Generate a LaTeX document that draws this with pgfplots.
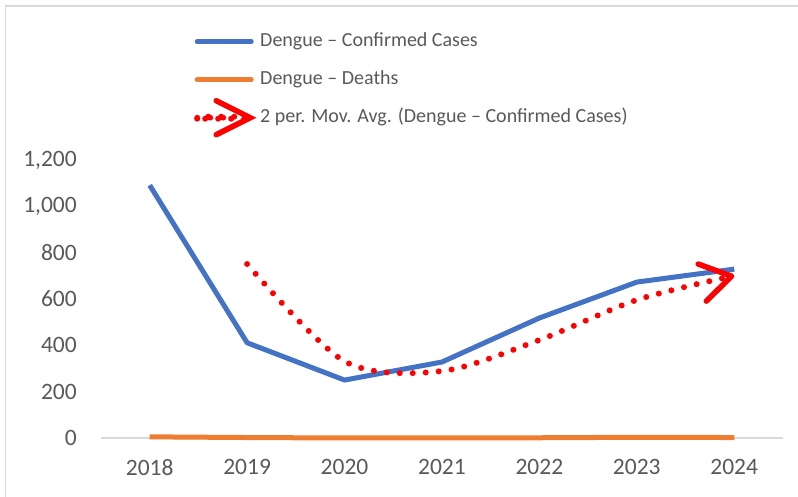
\documentclass[border=0pt]{standalone}
\usepackage{pgfplots}
\pgfplotsset{compat=1.18}
\usepackage{fontspec}
\setmainfont{Carlito}
\usetikzlibrary{arrows.meta}
\definecolor{cblue}{HTML}{4472C4}
\definecolor{corange}{HTML}{ED7D31}
\definecolor{cgrid}{HTML}{D9D9D9}
\definecolor{ctext}{HTML}{595959}

\begin{document}
\begin{tikzpicture}
\useasboundingbox (0,0) rectangle (798pt,497pt);
% chart area border (only top and left visible)
\draw[cgrid, line width=1.5pt] (5.5pt,-20pt) -- (5.5pt,491pt) -- (820pt,491pt);
\begin{axis}[
  at={(101pt,59pt)}, anchor=south west,
  scale only axis, width=682pt, height=278pt,
  xmin=2017.5, xmax=2024.5, ymin=0, ymax=1200,
  xtick={2018,...,2024}, ytick={0,200,...,1200},
  axis x line*=bottom, axis y line*=left,
  x axis line style={cgrid, line width=1.5pt},
  y axis line style={draw=none},
  major tick length=0pt,
  clip=false,
  /pgf/number format/assume math mode=true,
  xticklabel style={font=\fontsize{23.5}{28}\selectfont, text=ctext, inner sep=0pt, yshift=-21pt, /pgf/number format/1000 sep={}},
  yticklabel style={font=\fontsize{23.5}{28}\selectfont, text=ctext, inner sep=0pt, xshift=-24pt},
  legend cell align=left,
  legend style={at={(0.1364,1.4586)}, anchor=north west, draw=none, fill=none,
    inner sep=0pt, row sep=20pt, column sep=6pt,
    font=\fontsize{20}{24}\selectfont, text=ctext,
    nodes={inner sep=0pt, text height=14pt, text depth=4pt}},
  legend image code/.code={\draw[#1, -, line cap=round] (2pt,0pt) -- (56pt,0pt);},
]
\addplot[cblue, line width=5pt, line join=round] coordinates {
  (2018,1091) (2019,411) (2020,250) (2021,328) (2022,518) (2023,673) (2024,729)};
\addlegendentry{Dengue – Confirmed Cases}
\addplot[corange, line width=5pt, line join=round] coordinates {
  (2018,5) (2019,2) (2020,0) (2021,0) (2022,1) (2023,3) (2024,2)};
\addlegendentry{Dengue – Deaths}
\addplot[red, smooth, line width=6pt, line cap=round, dash pattern=on 0pt off 13pt,
  -{Straight Barb[length=30pt, width=38pt, round, line width=5.5pt]},
  legend image code/.code={
    \path[use as bounding box] (2pt,-1pt) rectangle (56pt,1pt);
    \path[fill=red, draw=none, solid] (2pt,0pt) circle (2.9pt) (15pt,0pt) circle (2.9pt) (28pt,0pt) circle (2.9pt);
    \draw[-, red, fill=none, line width=5.5pt, line cap=round, line join=miter, solid] (21pt,17pt) -- (55pt,0pt) -- (21pt,-17pt);
  }] coordinates {
  (2019,751) (2020,331) (2021,289) (2022,423) (2023,596) (2024,701)};
\addlegendentry{2 per. Mov. Avg. (Dengue – Confirmed Cases)}
\end{axis}
\end{tikzpicture}
\end{document}
